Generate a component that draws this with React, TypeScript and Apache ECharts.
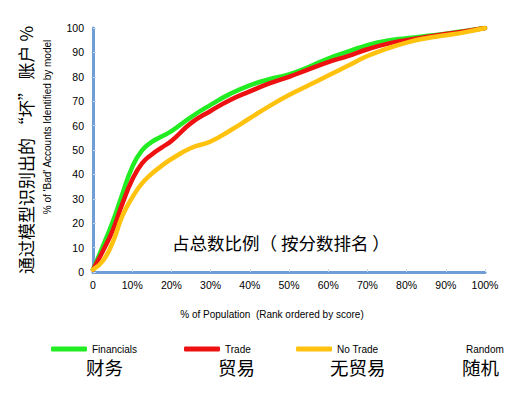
import React, { useEffect, useRef } from "react";
import * as echarts from "echarts";

const xPct = [0, 2.5, 5, 7.5, 10, 12.5, 15, 17.5, 20, 25, 30, 35, 40, 45, 50, 55, 60, 65, 70, 75, 80, 85, 90, 95, 100];
const financials = [1, 10.5, 20.5, 32, 43, 49.8, 53.3, 55.5, 57.7, 63.5, 68.5, 73, 76.5, 79, 81, 84, 87.5, 90.3, 93, 94.8, 95.8, 96.7, 97.7, 98.8, 100];
const trade = [1, 8.5, 17, 28, 37.8, 44.5, 48.2, 51, 53.7, 61, 66, 70.5, 74, 77.3, 80, 83, 86, 88.5, 91.3, 93.5, 95, 96.3, 97.5, 98.7, 100];
const noTrade = [1, 4.5, 12, 23, 30.5, 36.3, 40.3, 43.5, 46.3, 50.8, 53.5, 58, 63, 68, 72.5, 76.5, 80.5, 84.5, 88.5, 91.5, 94, 95.8, 97, 98.3, 100];
const randomX = [0, 100];
const randomY = [0, 100];

const seriesNames = ["Financials", "Trade", "No Trade", "Random"];
const seriesNamesCn = ["财务", "贸易", "无贸易", "随机"];
const yTitleCn = "通过模型识别出的 “坏” 账户 %";
const yTitleEn = "% of 'Bad' Accounts Identified by model";
const xTitleEn = "% of Population  (Rank ordered by score)";
const innerNote = "占总数比例（ 按分数排名 ）";

const FONT = "'Liberation Sans', Arial, 'Noto Sans CJK SC', sans-serif";
const CJK = "'Noto Sans CJK SC', 'Liberation Sans', sans-serif";

const pairs = (xs: number[], ys: number[]) => xs.map((x, i) => [x, ys[i]]);

export default function App() {
  const ref = useRef<HTMLDivElement>(null);
  useEffect(() => {
    if (!ref.current) return;
    const chart = echarts.init(ref.current, undefined, { renderer: "svg" });
    const lineSeries = (name: string, data: number[][], color: string) => ({
      name,
      type: "line",
      data,
      smooth: 0.5,
      symbol: "none",
      color,
      lineStyle: { color, width: 4.5, cap: "round", join: "round" },
    });
    const legendItem = (name: string, left: number) => ({
      data: [{ name, icon: "roundRect" }],
      left,
      top: 339,
      itemWidth: 36,
      itemHeight: 5,
      selectedMode: false,
      textStyle: { fontSize: 10, color: "#000", fontFamily: FONT },
    });
    chart.setOption({
      animation: false,
      backgroundColor: "#ffffff",
      grid: { left: 93, right: 36, top: 28, bottom: 126 },
      xAxis: [
        {
          type: "value",
          min: 0,
          max: 100,
          interval: 10,
          position: "bottom",
          axisLine: { show: true, lineStyle: { color: "#a6c0e2", width: 2 } },
          axisTick: { show: true, length: 3, inside: true, lineStyle: { color: "#c9d8ec" } },
          splitLine: { show: false },
          axisLabel: {
            formatter: (v: number) => (v === 0 ? "0" : v + "%"),
            color: "#000",
            fontSize: 10.5,
            fontFamily: FONT,
            margin: 8,
          },
        },
        {
          type: "value",
          min: 0,
          max: 100,
          position: "top",
          axisLine: { show: true, lineStyle: { color: "#6f9dd5", width: 3 } },
          axisTick: { show: false },
          axisLabel: { show: false },
          splitLine: { show: false },
        },
      ],
      yAxis: [
        {
          type: "value",
          min: 0,
          max: 100,
          interval: 10,
          position: "left",
          axisLine: { show: true, lineStyle: { color: "#a6c0e2", width: 2 } },
          axisTick: { show: true, length: 3, inside: true, lineStyle: { color: "#c9d8ec" } },
          splitLine: { show: false },
          axisLabel: { color: "#000", fontSize: 10.5, fontFamily: FONT, margin: 9 },
        },
        {
          type: "value",
          min: 0,
          max: 100,
          position: "right",
          axisLine: { show: true, lineStyle: { color: "#6f9dd5", width: 3 } },
          axisTick: { show: false },
          axisLabel: { show: false },
          splitLine: { show: false },
        },
      ],
      legend: [
        legendItem(seriesNames[0], 46),
        legendItem(seriesNames[1], 179),
        legendItem(seriesNames[2], 291),
        legendItem(seriesNames[3], 420),
      ],
      series: [
        lineSeries(seriesNames[0], pairs(xPct, financials), "#22ec22"),
        lineSeries(seriesNames[1], pairs(xPct, trade), "#ee1111"),
        lineSeries(seriesNames[2], pairs(xPct, noTrade), "#ffc20e"),
        {
          name: seriesNames[3],
          type: "line",
          data: pairs(randomX, randomY),
          symbol: "none",
          color: "#ffffff",
          lineStyle: { color: "#ffffff", width: 0, opacity: 0 },
          z: 0,
        },
      ],
      graphic: [
        {
          type: "text",
          x: 25,
          y: 150,
          rotation: Math.PI / 2,
          style: {
            text: yTitleCn,
            fontSize: 17,
            fontFamily: CJK,
            fill: "#000",
            align: "center",
            verticalAlign: "middle",
          },
        },
        {
          type: "text",
          x: 47,
          y: 127,
          rotation: Math.PI / 2,
          style: {
            text: yTitleEn,
            fontSize: 10,
            fontFamily: FONT,
            fill: "#000",
            align: "center",
            verticalAlign: "middle",
          },
        },
        {
          type: "text",
          x: 272,
          y: 314,
          style: {
            text: xTitleEn,
            fontSize: 10,
            fontFamily: FONT,
            fill: "#000",
            align: "center",
            verticalAlign: "middle",
          },
        },
        {
          type: "text",
          x: 172,
          y: 242,
          style: {
            text: innerNote,
            fontSize: 17.5,
            fontFamily: CJK,
            fill: "#000",
            align: "left",
            verticalAlign: "middle",
          },
        },
        ...[86, 218, 330, 462].map((x, i) => ({
          type: "text",
          x,
          y: 367,
          style: {
            text: seriesNamesCn[i],
            fontSize: 18.5,
            fontFamily: CJK,
            fill: "#000",
            align: "left",
            verticalAlign: "middle",
          },
        })),
      ],
    });
    return () => chart.dispose();
  }, []);
  return (
    <div
      ref={ref}
      style={{ position: "fixed", left: 0, top: 0, width: 521, height: 398, background: "#fff" }}
    />
  );
}
